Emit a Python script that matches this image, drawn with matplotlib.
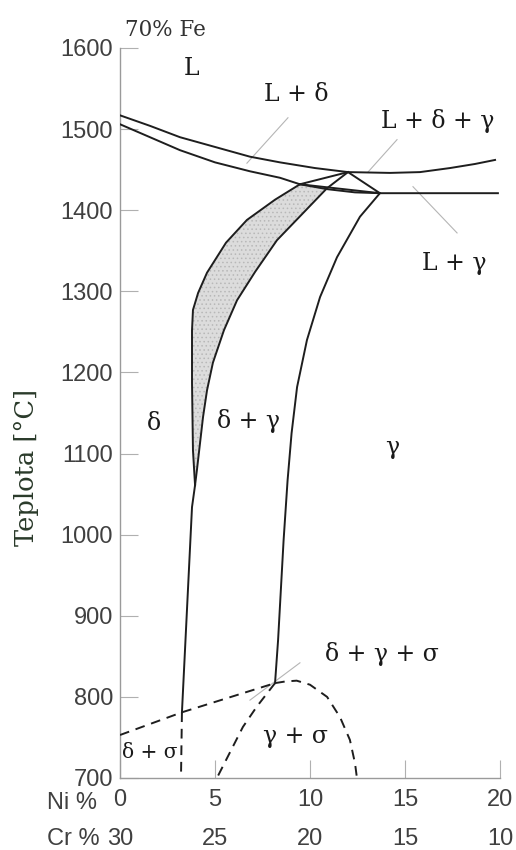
import matplotlib
matplotlib.use('Agg')
import matplotlib.pyplot as plt
from matplotlib.transforms import blended_transform_factory

# --- data (Ni %, temperature in C) ---
ni_ticks = [0, 5, 10, 15, 20]
cr_ticks = [30, 25, 20, 15, 10]
temp_ticks = list(range(700, 1700, 100))

# upper curve (liquidus)
liq_ni = [0.0, 1.58, 3.16, 5.0, 6.84, 8.42, 10.26, 12.0, 14.21, 15.79, 17.37, 18.68, 19.74]
liq_t = [1517, 1504, 1490, 1478, 1466, 1459, 1452, 1447, 1446, 1447, 1452, 1457, 1462]

# lower curve
sol_ni = [0.0, 1.58, 3.16, 5.0, 6.84, 8.42, 9.47, 10.89, 12.37, 13.68, 16.84, 19.89]
sol_t = [1506, 1490, 1474, 1459, 1448, 1440, 1432, 1426, 1422, 1421, 1421, 1421]

# three-phase triangle L + delta + gamma
tri_ni = [9.47, 12.0, 13.68]
tri_t = [1432, 1447, 1421]

# shaded band, left edge (top -> bottom)
band_l_ni = [9.47, 8.16, 6.68, 5.58, 4.58, 4.11, 3.84, 3.79, 3.79, 3.84, 3.95]
band_l_t = [1432, 1413, 1388, 1360, 1323, 1298, 1277, 1252, 1187, 1104, 1061]
# shaded band, right edge (top -> bottom)
band_r_ni = [12.0, 10.89, 9.74, 8.26, 7.11, 6.16, 5.47, 4.89, 4.58, 4.37, 4.05, 3.95]
band_r_t = [1447, 1427, 1399, 1363, 1324, 1289, 1252, 1212, 1178, 1145, 1080, 1061]

# delta / delta+gamma boundary under the band
dg_ni = [3.95, 3.79, 3.26]
dg_t = [1061, 1034, 781]

# gamma boundary
gam_ni = [13.68, 12.63, 11.42, 10.53, 9.84, 9.32, 9.03, 8.82, 8.61, 8.32, 8.16]
gam_t = [1421, 1392, 1342, 1293, 1240, 1182, 1125, 1067, 993, 870, 817]

# sigma boundaries (dashed)
sig_a_ni = [0.0, 3.26, 8.16]
sig_a_t = [753, 781, 817]
sig_b_ni = [3.26, 3.21]
sig_b_t = [781, 700]
sig_c_ni = [8.16, 7.2, 6.47, 5.1]
sig_c_t = [817, 788, 763, 700]
dome_ni = [8.16, 8.7, 9.3, 10.0, 10.9, 11.58, 12.1, 12.37, 12.47]
dome_t = [817, 819, 820, 815, 800, 775, 747, 718, 700]

# phase labels: text, Ni %, temperature
phase_labels = [
    ("L", 3.79, 1567),
    ("L + δ", 9.26, 1535),
    ("L + δ + γ", 16.7, 1501),
    ("L + γ", 17.58, 1326),
    ("δ", 1.76, 1129),
    ("δ + γ", 6.74, 1131),
    ("δ + γ + σ", 13.8, 844),
    ("γ + σ", 9.26, 743),
]
# leader lines: (Ni0, T0, Ni1, T1)
leaders = [
    (8.84, 1514, 6.68, 1458),
    (14.58, 1487, 13.05, 1447),
    (17.74, 1372, 15.42, 1429),
    (9.47, 842, 6.84, 796),
]

line_c = '#1e1e1e'
lw = 1.4
serif = 'DejaVu Serif'
plt.rcParams['hatch.linewidth'] = 0.6

fig = plt.figure(figsize=(5.16, 8.5), dpi=100)
ax = fig.add_axes([120 / 516, 72 / 850, 380 / 516, 730 / 850])

# shaded region (stippled grey)
ax.fill(band_l_ni + band_r_ni[1:][::-1], band_l_t + band_r_t[1:][::-1],
        facecolor='#dcdcdc', edgecolor='#b8b8b8', hatch='....', lw=0, zorder=1)

for xs, ys in [(liq_ni, liq_t), (sol_ni, sol_t), (band_l_ni, band_l_t),
               (band_r_ni, band_r_t), (dg_ni, dg_t), (gam_ni, gam_t)]:
    ax.plot(xs, ys, color=line_c, lw=lw, zorder=3)
ax.plot(tri_ni + tri_ni[:1], tri_t + tri_t[:1], color=line_c, lw=lw, zorder=3)

for xs, ys in [(sig_a_ni, sig_a_t), (sig_b_ni, sig_b_t), (sig_c_ni, sig_c_t), (dome_ni, dome_t)]:
    ax.plot(xs, ys, color=line_c, lw=lw, ls=(0, (5, 3.5)), zorder=3)

for x0, y0, x1, y1 in leaders:
    ax.plot([x0, x1], [y0, y1], color='#b5b5b5', lw=0.8, zorder=2)

for txt, x, y in phase_labels:
    ax.text(x, y, txt, ha='center', va='baseline', fontsize=17, family=serif, color='#1a1a1a')
ax.text(14.3, 1107, "γ", ha='center', va='center', fontsize=17, family=serif, color='#1a1a1a')
ax.text(1.55, 725, "δ + σ", ha='center', va='baseline', fontsize=14.5, family=serif, color='#1a1a1a')
ax.text(0.26, 1615, "70% Fe", ha='left', va='baseline', fontsize=15.5, family=serif, color='#333333')

# axes
ax.set_xlim(0, 20)
ax.set_ylim(700, 1600)
for s in ['top', 'right']:
    ax.spines[s].set_visible(False)
for s in ['left', 'bottom']:
    ax.spines[s].set_color('#9a9a9a')
    ax.spines[s].set_linewidth(1.0)

ax.set_yticks(temp_ticks)
ax.set_xticks(ni_ticks)
ax.set_xticklabels([f"{n}\n{c}" for n, c in zip(ni_ticks, cr_ticks)], linespacing=2.0)
ax.tick_params(axis='both', direction='in', length=13, width=0.8, color='#b0b0b0',
               labelsize=17, labelcolor='#404040')
ax.tick_params(axis='y', pad=5)
ax.tick_params(axis='x', pad=8)
for lab in ax.get_xticklabels() + ax.get_yticklabels():
    lab.set_family('Liberation Sans')

tr = blended_transform_factory(ax.transAxes, ax.transAxes)
ax.text(-0.192, -0.042, "Ni %", transform=tr, ha='left', va='baseline',
        fontsize=17, family='Liberation Sans', color='#404040')
ax.text(-0.192, -0.092, "Cr %", transform=tr, ha='left', va='baseline',
        fontsize=17, family='Liberation Sans', color='#404040')

ax.set_ylabel("Teplota [°C]", fontsize=18.5, family=serif, color='#2a3a2a', va='center')
ax.yaxis.set_label_coords(-0.245, 0.425)

fig.savefig('out.png', dpi=100)
plt.close(fig)
